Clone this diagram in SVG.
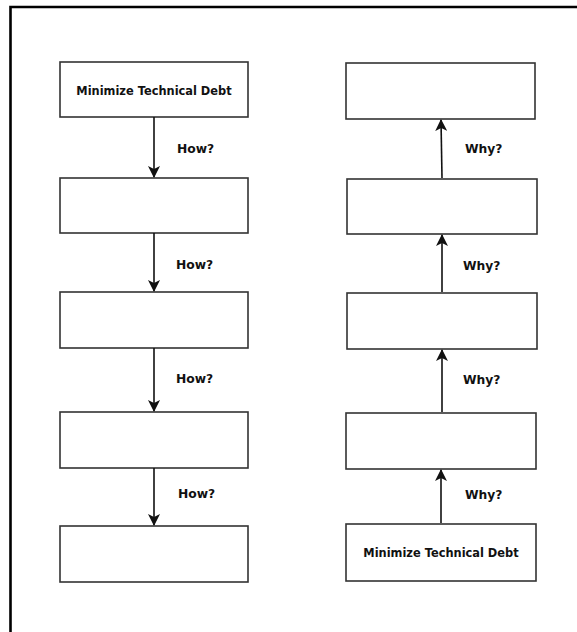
<svg xmlns="http://www.w3.org/2000/svg" width="577" height="632" viewBox="0 0 577 632">
<style>
.box{fill:#fff;stroke:#333;stroke-width:1.6}
.conn{fill:none;stroke:#111;stroke-width:1.6}
.lbl{font-family:"DejaVu Sans",Verdana,sans-serif;font-weight:bold;font-size:12.3px;fill:#111}
.lblc{font-family:"DejaVu Sans",Verdana,sans-serif;font-weight:bold;font-size:11.4px;fill:#111;text-anchor:middle}
</style>
<defs>
<marker id="ah" viewBox="0 0 12 12" refX="11" refY="6" markerWidth="12" markerHeight="12" markerUnits="userSpaceOnUse" orient="auto">
<path d="M0,0 L12,6 L0,12 L3,6 Z" fill="#111"/>
</marker>
</defs>
<rect width="577" height="632" fill="#fff"/>
<path d="M10.5,640 L10.5,7 L590,7" fill="none" stroke="#000" stroke-width="2.6"/>
<g id="left-1"><rect class="box" x="60" y="62" width="188" height="55"/><text class="lblc" x="154" y="95">Minimize Technical Debt</text></g>
<g id="left-2"><rect class="box" x="60" y="178" width="188" height="55"/></g>
<g id="left-3"><rect class="box" x="60" y="292" width="188" height="56"/></g>
<g id="left-4"><rect class="box" x="60" y="412" width="188" height="56"/></g>
<g id="left-5"><rect class="box" x="60" y="526" width="188" height="56"/></g>
<g id="right-1"><rect class="box" x="346" y="63" width="189" height="56"/></g>
<g id="right-2"><rect class="box" x="347" y="179" width="190" height="55"/></g>
<g id="right-3"><rect class="box" x="347" y="293" width="190" height="56"/></g>
<g id="right-4"><rect class="box" x="346" y="413" width="190" height="56"/></g>
<g id="right-5"><rect class="box" x="346" y="524" width="190" height="57"/><text class="lblc" x="441" y="557">Minimize Technical Debt</text></g>
<g id="connectors">
<line class="conn" x1="154" y1="117" x2="154" y2="177" marker-end="url(#ah)"/>
<line class="conn" x1="154" y1="233" x2="154" y2="291" marker-end="url(#ah)"/>
<line class="conn" x1="154" y1="348" x2="154" y2="411" marker-end="url(#ah)"/>
<line class="conn" x1="154" y1="468" x2="154" y2="525" marker-end="url(#ah)"/>
<line class="conn" x1="442" y1="178" x2="441" y2="120" marker-end="url(#ah)"/>
<line class="conn" x1="442" y1="292" x2="442" y2="235" marker-end="url(#ah)"/>
<line class="conn" x1="442" y1="412" x2="442" y2="350" marker-end="url(#ah)"/>
<line class="conn" x1="441" y1="523" x2="441" y2="470" marker-end="url(#ah)"/>
<text class="lbl" x="177" y="153">How?</text>
<text class="lbl" x="176" y="269">How?</text>
<text class="lbl" x="176" y="383">How?</text>
<text class="lbl" x="178" y="498">How?</text>
<text class="lbl" x="465" y="153">Why?</text>
<text class="lbl" x="463" y="270">Why?</text>
<text class="lbl" x="463" y="384">Why?</text>
<text class="lbl" x="465" y="499">Why?</text>
</g>
</svg>
